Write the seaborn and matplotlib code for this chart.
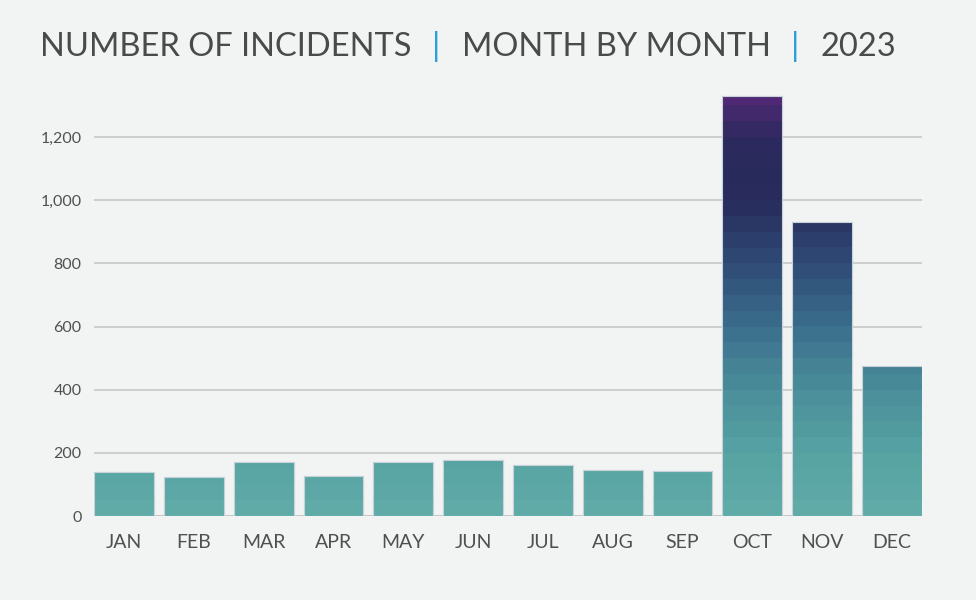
"""
Incidents per month, 2023 - bar chart with stepped teal-to-purple gradient.
"""
import numpy as np
import pandas as pd
import matplotlib
matplotlib.use("Agg")
import matplotlib.pyplot as plt
from matplotlib.colors import LinearSegmentedColormap, BoundaryNorm, ListedColormap
import seaborn as sns

months = ["JAN", "FEB", "MAR", "APR", "MAY", "JUN",
          "JUL", "AUG", "SEP", "OCT", "NOV", "DEC"]
incidents = [139, 123, 171, 127, 171, 177, 161, 146, 142, 1332, 930, 475]

title_parts = ["NUMBER OF INCIDENTS", "MONTH BY MONTH", "2023"]
yticks = [0, 200, 400, 600, 800, 1000, 1200]

bg = "#f2f3f3"
text_col = "#505050"
sep_col = "#2a9fd8"

# colour by value, stepped in bands
grad_stops = [(0.0, "#62aca8"), (200 / 1340, "#56a3a3"), (400 / 1340, "#4b8e9a"),
              (600 / 1340, "#3a6e8c"), (800 / 1340, "#2f4b76"), (1000 / 1340, "#282c5c"),
              (1200 / 1340, "#2c295e"), (1.0, "#532a78")]
base_cmap = LinearSegmentedColormap.from_list("inc", grad_stops)
band = 50
ymax = 1340
edges = np.arange(0, ymax + band, band)
band_cmap = ListedColormap([base_cmap((e + band / 2) / ymax) for e in edges[:-1]])
band_norm = BoundaryNorm(edges, band_cmap.N)

sns.set_theme(style="white")
plt.rcParams["font.family"] = ["Lato", "DejaVu Sans"]

df = pd.DataFrame({"month": months, "incidents": incidents})

fig = plt.figure(figsize=(9.76, 6), dpi=100, facecolor=bg)
ax = fig.add_axes([94 / 976, 1 - 516 / 600, (922 - 94) / 976, (516 - 93) / 600])
ax.set_facecolor(bg)

sns.barplot(data=df, x="month", y="incidents", color=base_cmap(0.1),
            width=0.857, saturation=1, ax=ax, zorder=3,
            edgecolor="#c9d2d8", linewidth=0.8)

# gradient fill clipped to each bar
yy = np.linspace(0, ymax, 1341)[:, None]
for p in ax.patches:
    x0 = p.get_x()
    x1 = x0 + p.get_width()
    im = ax.imshow(yy, cmap=band_cmap, norm=band_norm, origin="lower",
                   extent=[x0, x1, 0, ymax], aspect="auto", zorder=3.5,
                   interpolation="nearest")
    im.set_clip_path(p)
    edge = plt.Rectangle((x0, 0), p.get_width(), p.get_height(), fill=False,
                         edgecolor="#c9d2d8", linewidth=0.8, zorder=4)
    ax.add_patch(edge)
ax.set_xlim(-0.43, len(months) - 0.57)
ax.set_ylim(0, ymax)

ax.set_yticks(yticks)
ax.set_yticklabels([f"{v:,}" for v in yticks])
ax.yaxis.grid(True, color="#c6c8c8", linewidth=1.2, zorder=0)
ax.set_axisbelow(True)
ax.axhline(0, color="#c6c8c8", linewidth=1.2, zorder=2)
for s in ax.spines.values():
    s.set_visible(False)
ax.tick_params(axis="y", length=0, pad=9, labelsize=11.5, labelcolor=text_col)
ax.tick_params(axis="x", length=0, pad=13, labelsize=14, labelcolor=text_col)
ax.set_xlabel("")
ax.set_ylabel("")

# title in pieces with blue separators
renderer = fig.canvas.get_renderer()
x = 40
for i, part in enumerate(title_parts):
    t = fig.text(x / 976, 1 - 47 / 600, part, fontsize=23.5, color="#4a4a4a",
                 va="center", ha="left")
    bb = t.get_window_extent(renderer=renderer)
    if i < len(title_parts) - 1:
        sx = bb.x1 + 25
        fig.text(sx / 976, 1 - 47 / 600, "|", fontsize=24, color=sep_col,
                 va="center", ha="center")
        x = sx + 25

fig.savefig("out.png", dpi=100, facecolor=bg)
